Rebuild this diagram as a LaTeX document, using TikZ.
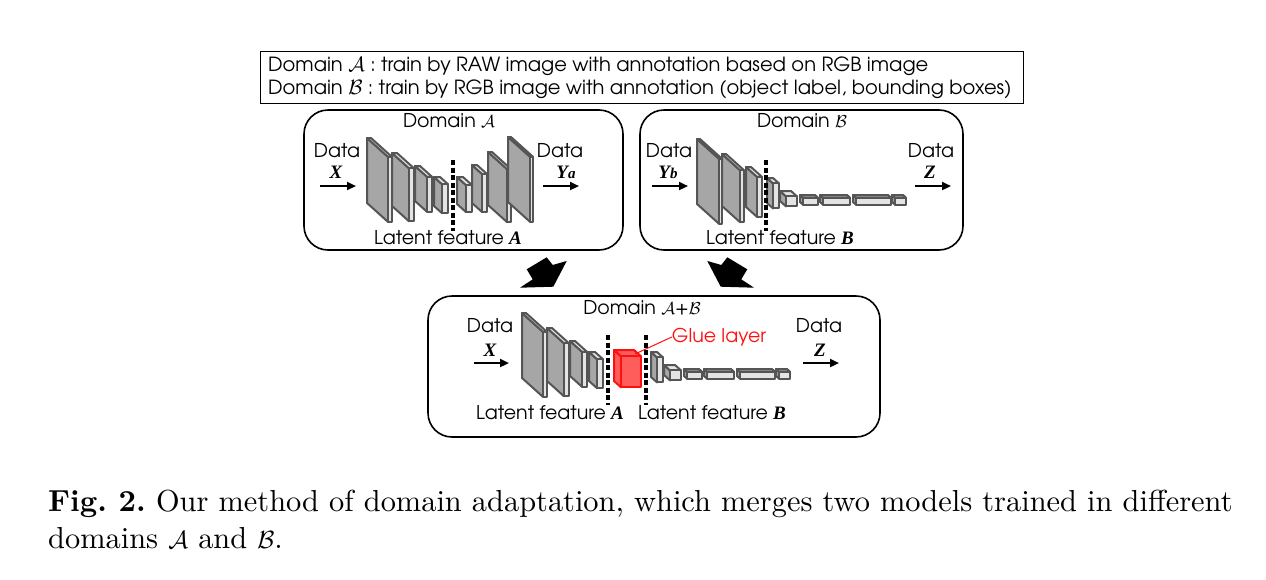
\documentclass[tikz,border=0pt]{standalone}
\usepackage{fontspec}
\usepackage{amsmath,amssymb}
\usetikzlibrary{arrows.meta,positioning}
\newfontfamily\gothic[Extension=.otf,UprightFont=*-regular,BoldFont=*-bold]{texgyreadventor}
\newfontfamily\timesbi[BoldItalicFont={Liberation Serif Bold Italic}]{Liberation Serif}
\newfontfamily\capfont[Extension=.otf,UprightFont=lmroman10-regular,BoldFont=lmroman10-bold]{lmroman10}
\definecolor{slabside}{HTML}{A6A6A6}
\definecolor{slabface}{HTML}{E4E4E4}
\definecolor{slabline}{HTML}{555555}
\definecolor{gluefill}{HTML}{FF5C5C}
\definecolor{gluered}{HTML}{FF1010}

\newcommand{\vbi}[1]{{\timesbi\bfseries\itshape #1}}
% one conv layer: #2 x, #3 y (back top), #4 height, #5 depth, #6 width
\newcommand{\slab}[6][]{%
  \filldraw[slab,fill=slabside,#1] (#2,#3) -- ++(#5,0.9*#5) -- ++(0,#4) -- ++(-#5,-0.9*#5) -- cycle;
  \filldraw[slab,#1] (#2,#3) -- ++(#6,0) -- ++(#5,0.9*#5) -- ++(-#6,0) -- cycle;
  \filldraw[slab,#1] (#2+#5,#3+0.9*#5) rectangle ++(#6,#4);}

\begin{document}
\frenchspacing
\begin{tikzpicture}[x=1pt,y=-1pt,
  slab/.style={draw=slabline,fill=slabface,line width=2pt,line join=round},
  glueslab/.style={draw=gluered,fill=gluefill},
  panel/.style={draw,line width=1.6pt,rounded corners=24pt},
  txt/.style={font=\gothic\fontsize{19}{22}\selectfont,inner sep=0pt},
  legtxt/.style={font=\gothic\fontsize{19.5}{22}\selectfont,inner sep=0pt,anchor=west},
  captxt/.style={font=\capfont\fontsize{30.4}{36}\selectfont,inner sep=0pt,anchor=base west},
  dataarrow/.style={-{Triangle[length=9pt,width=8pt]},line width=2.2pt},
  cutline/.style={line width=3.2pt,dash pattern=on 5pt off 2.5pt}]
  \useasboundingbox (0,0) rectangle (1266,579);

  % legend
  \node[draw,line width=1pt,minimum width=763,minimum height=52] (legend) at (641.5,77) {};
  \node[legtxt] (legA) at (268,66) {Domain $\mathcal{A}$ : train by RAW image with annotation based on RGB image};
  \node[legtxt] (legB) at (268,89) {Domain $\mathcal{B}$ : train by RGB image with annotation (object label, bounding boxes)};

  % panels
  \node[panel,minimum width=319,minimum height=140] (boxA) at (463.5,180) {};
  \node[panel,minimum width=323,minimum height=140] (boxB) at (801.5,180) {};
  \node[panel,minimum width=452,minimum height=141] (boxAB) at (654,366.5) {};

  % domain A network
  \foreach \xb/\yt/\h/\d/\w in {367/138/65/21/4,392/153/53/17/5,415/166/35/12/5,434/177/29/8/6,
      457/177/27/9/6,472/165/38/10/5,488/152/53/19/4,508/137/65/22/3}
    {\slab{\xb}{\yt}{\h}{\d}{\w}}
  \draw[cutline] (453,160) -- (453,231);

  % domain B network
  \foreach \xb/\yt/\h/\d/\w in {697/139/65/22/3,722/154/52/18/4,746/167/40/11/5,767/178/25/6/6,
      780/191/10/6/11,800/195/7/3/15,820/195/7/3/27,853/195/7/3/35,892/195/7/3/11}
    {\slab{\xb}{\yt}{\h}{\d}{\w}}
  \draw[cutline] (766,160) -- (766,231);

  % merged network
  \begin{scope}[shift={(155,175)}]
    \foreach \xb/\yt/\h/\d/\w in {367/138/65/21/4,392/153/53/17/5,415/166/35/12/5,434/177/29/8/6}
      {\slab{\xb}{\yt}{\h}{\d}{\w}}
  \end{scope}
  \slab[glueslab]{614}{350}{31}{7}{20}
  \begin{scope}[shift={(-116,174)}]
    \foreach \xb/\yt/\h/\d/\w in {767/178/25/6/6,780/191/10/6/11,800/195/7/3/15,820/195/7/3/27,
        853/195/7/3/35,892/195/7/3/11}
      {\slab{\xb}{\yt}{\h}{\d}{\w}}
  \end{scope}
  \draw[cutline] (608,335) -- (608,405);
  \draw[cutline] (646,335) -- (646,405);

  % labels, panel A
  \node[txt] (domA) at (449,121) {Domain $\mathcal{A}$};
  \node[txt] (inA) at (337,151) {Data};
  \node[txt] (xA) at (336,172) {\vbi{X}};
  \node[txt] (outA) at (560,151) {Data};
  \node[txt] (yA) at (566,172) {\vbi{Y\fontsize{15}{15}\selectfont a}};
  \node[txt] (latA) at (448,238) {Latent feature \vbi{A}};
  \draw[dataarrow] (320,186) -- (356,186);
  \draw[dataarrow] (543,186) -- (579,186);

  % labels, panel B
  \node[txt] (domB) at (802,121) {Domain $\mathcal{B}$};
  \node[txt] (inB) at (669,151) {Data};
  \node[txt] (yB) at (668,172) {\vbi{Y\fontsize{15}{15}\selectfont b}};
  \node[txt] (outB) at (931,151) {Data};
  \node[txt] (zB) at (930,172) {\vbi{Z}};
  \node[txt] (latB) at (780,238) {Latent feature \vbi{B}};
  \draw[dataarrow] (652,186) -- (688,186);
  \draw[dataarrow] (915,186) -- (951,186);

  % labels, merged panel
  \node[txt] (domAB) at (642,308) {Domain $\mathcal{A}$+$\mathcal{B}$};
  \node[txt] (inAB) at (490,326) {Data};
  \node[txt] (xAB) at (490,350) {\vbi{X}};
  \node[txt] (outAB) at (819,326) {Data};
  \node[txt] (zAB) at (820,350) {\vbi{Z}};
  \node[txt,text=gluered] (glue) at (719,337) {Glue layer};
  \coordinate (gluetop) at (635,354);
  \draw[gluered,line width=1pt] (gluetop) -- (glue.west);
  \node[txt] (latABa) at (550,413) {Latent feature \vbi{A}};
  \node[txt] (latABb) at (712,413) {Latent feature \vbi{B}};
  \draw[dataarrow] (474,363) -- (509,363);
  \draw[dataarrow] (803,363) -- (839,363);

  % merge arrows
  \fill (546.7,257.3) -- (552.7,265) -- (566.7,261) -- (553.3,286.7) -- (520,287.7)
    -- (532.7,279.3) -- (526.7,269.3) -- cycle;
  \fill (727.3,257.3) -- (721.3,265) -- (707.3,261) -- (720.7,286.7) -- (754,287.7)
    -- (741.3,279.3) -- (747.3,269.3) -- cycle;

  % caption
  \node[captxt] (cap1) at (48,511) {\textbf{Fig. 2.} Our method of domain adaptation, which merges two models trained in different};
  \node[captxt] (cap2) at (48,548) {domains $\mathcal{A}$ and $\mathcal{B}$.};
\end{tikzpicture}
\end{document}
